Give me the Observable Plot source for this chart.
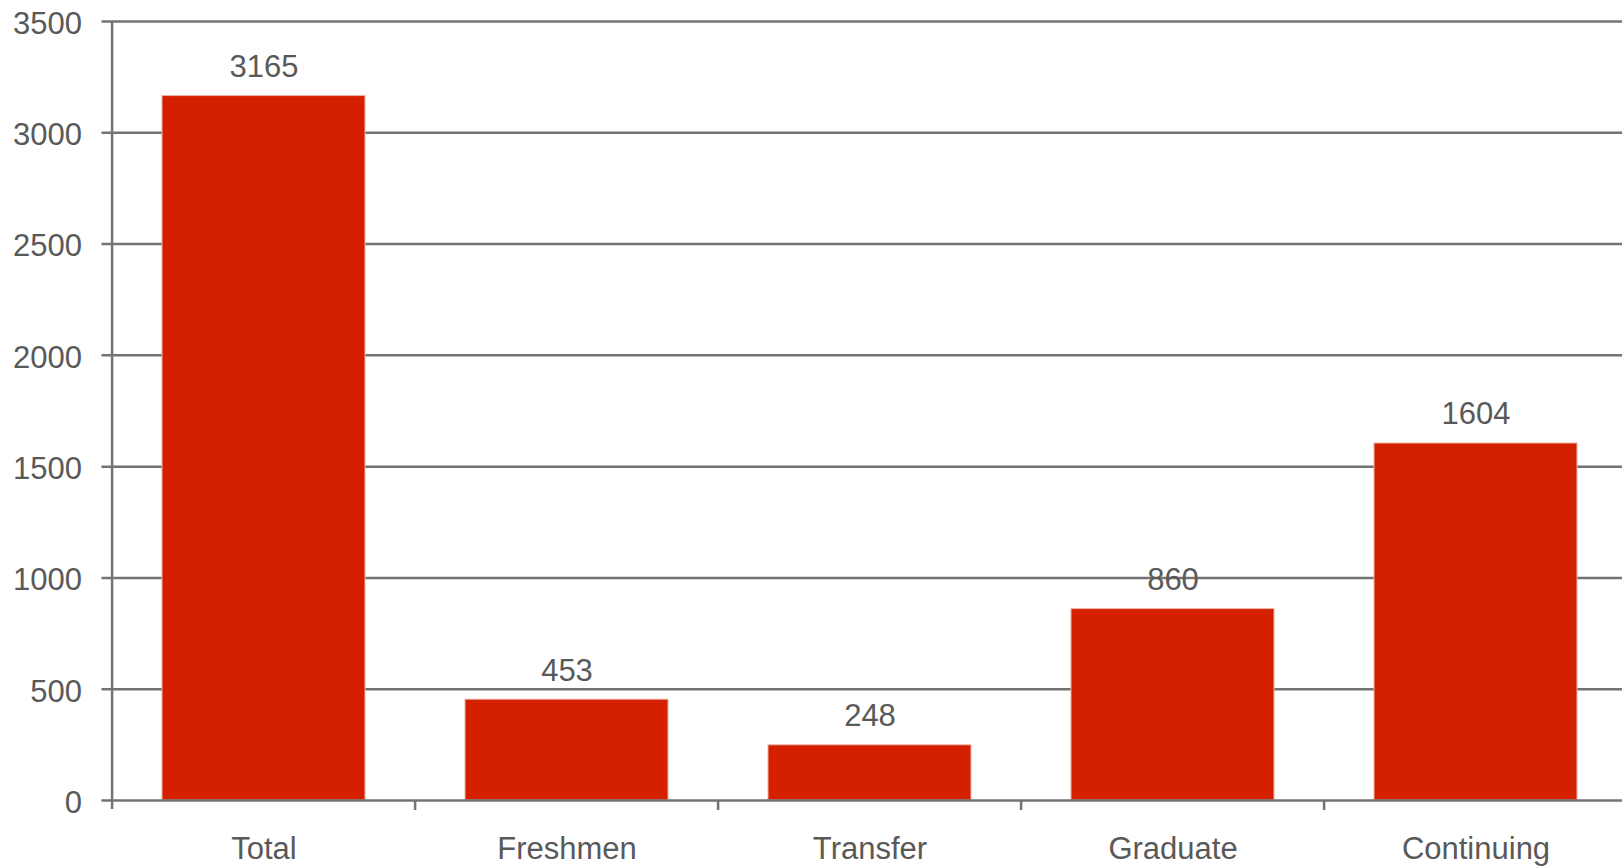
<!DOCTYPE html>
<html><head><meta charset="utf-8">
<script src="https://cdn.jsdelivr.net/npm/d3@7"></script>
<script src="https://cdn.jsdelivr.net/npm/@observablehq/plot@0.6"></script>
<style>html,body{margin:0;padding:0;background:#fff;overflow:hidden} svg{display:block}</style>
</head><body><div id="chart"></div>
<script>
const categories = ["Total", "Freshmen", "Transfer", "Graduate", "Continuing"];
const values = [3165, 453, 248, 860, 1604];
const yTicks = [0, 500, 1000, 1500, 2000, 2500, 3000, 3500];

const data = categories.map((c, i) => ({category: c, value: values[i]}));
const W = 1622, H = 867;
const x0 = 110.5, step = 303.8;
const xRange = [x0, x0 + step * categories.length];
const textColor = "#595959", gridColor = "#737373", barColor = "#d52000";
const font = "'Liberation Sans', Arial, sans-serif";

const chart = Plot.plot({
  width: W, height: H,
  marginLeft: x0, marginRight: 0, marginTop: 21, marginBottom: 67,
  style: {fontFamily: font, color: textColor, background: "#fff", overflow: "hidden"},
  x: {domain: categories, range: xRange, paddingInner: 0.33, paddingOuter: 0.165, align: 0.5},
  y: {domain: [0, 3500]},
  marks: [
    Plot.ruleY(yTicks.filter(t => t > 0), {stroke: gridColor, strokeWidth: 2.5, insetLeft: -9}),
    Plot.barY(data, {x: "category", y: "value", fill: barColor, stroke: "#eeb2a4", strokeWidth: 1}),
    Plot.ruleY([0], {stroke: gridColor, strokeWidth: 2.5, insetLeft: -9}),
    Plot.text(data, {x: "category", y: "value", text: d => String(d.value), lineAnchor: "bottom", dy: -19, fontSize: 31, fill: textColor}),
    Plot.ruleX(categories.slice(0, 1), {x: d => d, dx: -step / 2, y1: 3500, y2: 0, insetBottom: -9, stroke: gridColor, strokeWidth: 2.5}),
    Plot.ruleX(categories.slice(1), {x: d => d, dx: -step / 2, y1: 0, y2: 0, insetBottom: -10, stroke: gridColor, strokeWidth: 2.5}),
    Plot.axisY({ticks: yTicks, tickSize: 0, tickPadding: 29, fontSize: 31, fill: textColor, label: null, tickFormat: d => String(d), dy: 2.5}),
    Plot.axisX({tickSize: 0, tickPadding: 36, fontSize: 31, fill: textColor, label: null})
  ]
});
document.getElementById("chart").appendChild(chart);
</script>
</body></html>
